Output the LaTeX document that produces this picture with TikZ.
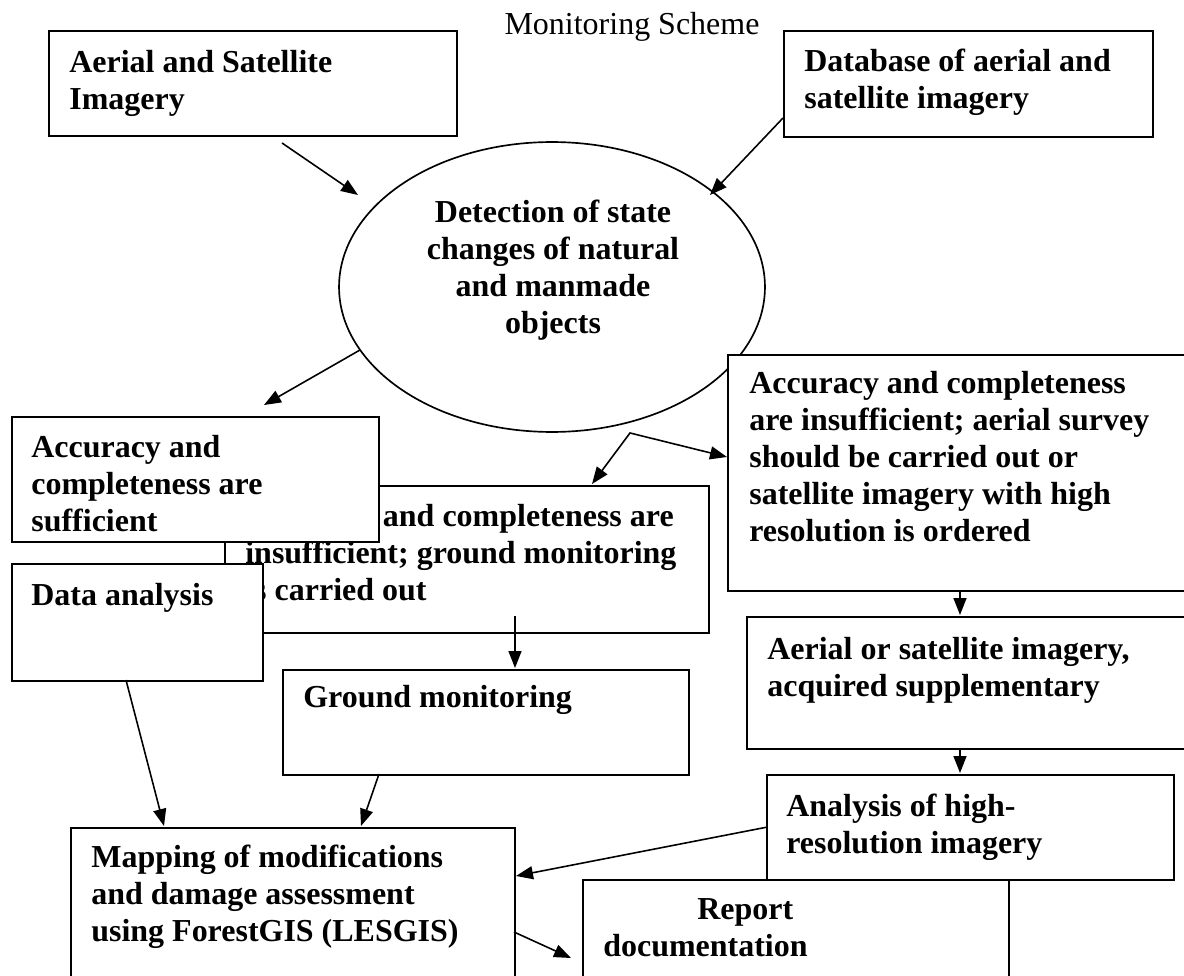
\documentclass[tikz,border=0pt]{standalone}
\usepackage{fontspec}
\setmainfont{Liberation Serif}
\usetikzlibrary{calc, positioning, arrows.meta, shapes.geometric}
\tikzset{
    >={Triangle[length=0.34cm, width=0.26cm]},
    box/.style={rectangle, draw=black, line width=0.95pt, fill=white, anchor=north west, inner sep=0pt},
    txt/.style={anchor=north west, align=left, inner sep=0pt, font=\bfseries\fontsize{18.2}{21}\selectfont},
    oval/.style={ellipse, draw=black, line width=0.95pt, fill=white, minimum width=8.52cm, minimum height=5.8cm, inner sep=0pt},
    arrow/.style={->, line width=0.9pt},
    title/.style={anchor=base, inner sep=0pt, font=\fontsize{18.2}{21}\selectfont}
}

\begin{document}
\begin{tikzpicture}[x=0.02cm, y=-0.02cm]
        \useasboundingbox (0,0) rectangle (1184,976);

        \node[title] (title) at (632,35) {Monitoring Scheme};

        % Sources
        \node[box, minimum width=8.16cm, minimum height=2.10cm] (imgA) at (48,30) {};
        \node[txt] (imgA-t) at ($(imgA.north west)+(21,20)$) {Aerial and Satellite\\Imagery};
        \node[box, minimum width=7.38cm, minimum height=2.12cm] (dbase) at (783,30) {};
        \node[txt] (dbase-t) at ($(dbase.north west)+(21,19)$) {Database of aerial and\\satellite imagery};

        % Detection
        \node[oval] (detect) at (552,287) {};
        \node[txt, anchor=center, align=center] (detect-t) at (553,270) {Detection of state\\changes of natural\\and manmade\\objects};

        % Outcomes
        \node[box, minimum width=9.36cm, minimum height=4.72cm] (aerins) at (727,354) {};
        \node[txt] (aerins-t) at ($(aerins.north west)+(22,17)$) {Accuracy and completeness\\are insufficient; aerial survey\\should be carried out or\\satellite imagery with high\\resolution is ordered};
        \node[box, minimum width=9.68cm, minimum height=2.94cm] (gndins) at (224,485) {};
        \node[txt] (gndins-t) at ($(gndins.north west)+(21,19)$) {Accuracy and completeness are\\insufficient; ground monitoring\\is carried out};
        \node[box, minimum width=7.34cm, minimum height=2.50cm] (suff) at (11,416) {};
        \node[txt] (suff-t) at ($(suff.north west)+(20,19)$) {Accuracy and\\completeness are\\sufficient};
        \node[box, minimum width=5.02cm, minimum height=2.34cm] (anal) at (11,563) {};
        \node[txt] (anal-t) at ($(anal.north west)+(20,20)$) {Data analysis};

        % Follow-up
        \node[box, minimum width=8.12cm, minimum height=2.10cm] (gmon) at (282,669) {};
        \node[txt] (gmon-t) at ($(gmon.north west)+(21,16)$) {Ground monitoring};
        \node[box, minimum width=8.98cm, minimum height=2.64cm] (supp) at (746,616) {};
        \node[txt] (supp-t) at ($(supp.north west)+(21,21)$) {Aerial or satellite imagery,\\acquired supplementary};
        \node[box, minimum width=8.14cm, minimum height=2.10cm] (hres) at (766,774) {};
        \node[txt] (hres-t) at ($(hres.north west)+(20,20)$) {Analysis of high-\\resolution imagery};

        % Results
        \node[box, minimum width=8.88cm, minimum height=3.26cm] (map) at (70,827) {};
        \node[txt] (map-t) at ($(map.north west)+(21,18)$) {Mapping of modifications\\and damage assessment\\using ForestGIS (LESGIS)};
        \node[box, minimum width=8.52cm, minimum height=2.22cm] (rep) at (582,879) {};
        \node[txt] (rep-t) at ($(rep.north west)+(21,19)$) {\hspace*{1.88cm}Report\\documentation};

        % Connectors
        \coordinate (imgA-out) at (282,143);
        \coordinate (detect-inA) at (358,195);
        \coordinate (dbase-out) at (783,118);
        \coordinate (detect-inB) at (710,195);
        \coordinate (detect-outL) at (360,350);
        \coordinate (suff-in) at (264,405);
        \coordinate (fork) at (630,433);
        \coordinate (gndins-in) at (592,484);
        \coordinate (aerins-in) at (727,457);
        \coordinate (gndins-out) at (515,616);
        \coordinate (gmon-in) at (515,668);
        \coordinate (aerins-out) at (960,590);
        \coordinate (supp-in) at (960,615);
        \coordinate (supp-out) at (960,748);
        \coordinate (hres-in) at (960,773);
        \coordinate (anal-out) at (126,680);
        \coordinate (map-inA) at (164,826);
        \coordinate (gmon-out) at (379,774);
        \coordinate (map-inB) at (361,826);
        \coordinate (map-inC) at (516,876);
        \coordinate (map-out) at (514,932);
        \coordinate (rep-in) at (571,958);

        \draw[arrow] (imgA-out) -- (detect-inA);
        \draw[arrow] (dbase-out) -- (detect-inB);
        \draw[arrow] (detect-outL) -- (suff-in);
        \draw[arrow, <->] (gndins-in) -- (fork) -- (aerins-in);
        \draw[arrow] (gndins-out) -- (gmon-in);
        \draw[arrow] (aerins-out) -- (supp-in);
        \draw[arrow] (supp-out) -- (hres-in);
        \draw[arrow] (anal-out) -- (map-inA);
        \draw[arrow] (gmon-out) -- (map-inB);
        \draw[arrow] (hres.west) -- (map-inC);
        \draw[arrow] (map-out) -- (rep-in);
    \end{tikzpicture}
\end{document}
